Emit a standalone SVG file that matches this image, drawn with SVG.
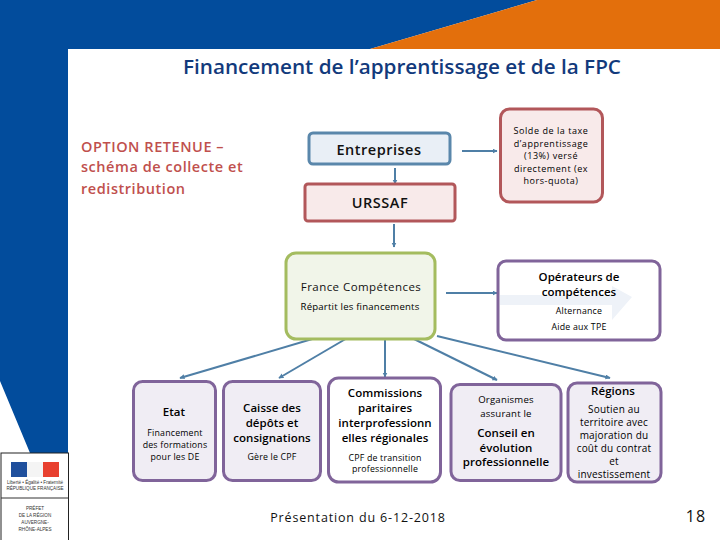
<svg xmlns="http://www.w3.org/2000/svg" width="720" height="540" viewBox="0 0 720 540">
<style>
text{font-family:"Open Sans","Noto Sans","Liberation Sans",sans-serif;fill:#111;text-anchor:middle}
.b{font-weight:600;font-size:11.500px;letter-spacing:.05px;fill:#000}
.s{font-size:8.800px;letter-spacing:.2px;fill:#000}
.t{font-size:10px}
.u{font-size:9.600px}
.v{font-size:9px;letter-spacing:.55px}
.o{text-anchor:start;fill:#c0504d;font-size:14.500px;font-weight:600;letter-spacing:.55px}
.box{stroke-width:3}
.p{stroke:#80649a}
.pf{fill:#f0edf4}
.r{stroke:#b2575a;fill:#f8eaea}
.c{stroke:#4f7fa6;stroke-width:2;fill:none;marker-end:url(#a)}
.m{fill:#333;font-size:4.600px;font-family:"Liberation Sans",sans-serif}
</style>
<defs>
<marker id="a" markerWidth="6" markerHeight="6" refX="4.500" refY="2.500" orient="auto" markerUnits="userSpaceOnUse"><path d="M0 0L5 2.500L0 5Z" fill="#4f7fa6"/></marker>
</defs>
<rect width="720" height="540" fill="#fff"/>
<path d="M0 0H537L370 49H68V453H30L0 381Z" fill="#024c9c"/>
<path d="M537 0H720V49H370Z" fill="#e36f0c"/>
<g id="logo">
<rect x="1" y="453" width="67.500" height="88" fill="#fff" stroke="#222" stroke-width="1"/>
<path d="M1 498H68" stroke="#333" stroke-width="1"/>
<rect x="11" y="462" width="16" height="15" fill="#1f4f9c"/>
<rect x="27" y="462" width="16" height="15" fill="#f4f4f4"/>
<rect x="43" y="462" width="16" height="15" fill="#e8402f"/>
<text class="m" x="35" y="484">Liberté • Égalité • Fraternité</text>
<text class="m" x="35" y="490">RÉPUBLIQUE FRANÇAISE</text>
<text class="m" x="35" y="510">PRÉFET</text>
<text class="m" x="35" y="517">DE LA RÉGION</text>
<text class="m" x="35" y="524">AUVERGNE-</text>
<text class="m" x="35" y="531">RHÔNE-ALPES</text>
</g>
<text x="402" y="74" style="font-size:20px;font-weight:600;fill:#123a7c" textLength="438" lengthAdjust="spacingAndGlyphs">Financement de l’apprentissage et de la FPC</text>
<g id="option">
<text class="o" x="81" y="152">OPTION RETENUE –</text>
<text class="o" x="81" y="172">schéma de collecte et</text>
<text class="o" x="81" y="194">redistribution</text>
</g>
<g id="connectors">
<path class="c" d="M395 168V184"/>
<path class="c" d="M394 224V247"/>
<path class="c" d="M462 151H497"/>
<path class="c" d="M446 293H497"/>
<path class="c" d="M319 337L180 378"/>
<path class="c" d="M349 337L279 378"/>
<path class="c" d="M385 338V377"/>
<path class="c" d="M412 338L497 380"/>
<path class="c" d="M437 336L610 378"/>
</g>
<g id="entreprises">
<rect class="box" x="309" y="133" width="141" height="31" rx="4" fill="#e9eff6" stroke="#5a87ab"/>
<text x="379" y="155" style="font-size:14.500px;font-weight:600;letter-spacing:.5px">Entreprises</text>
</g>
<g id="urssaf">
<rect class="box r" x="305" y="184" width="150" height="37" rx="3"/>
<text x="380" y="208" style="font-size:14.500px;font-weight:600;letter-spacing:.5px">URSSAF</text>
</g>
<g id="solde">
<rect class="box r" x="500.500" y="109" width="102" height="93" rx="9"/>
<text class="s v" x="551" y="134">Solde de la taxe</text>
<text class="s v" x="551" y="147">d’apprentissage</text>
<text class="s v" x="551" y="159">(13%) versé</text>
<text class="s v" x="551" y="172">directement (ex</text>
<text class="s v" x="551" y="184">hors-quota)</text>
</g>
<g id="france">
<rect class="box" x="286" y="253" width="149" height="86" rx="10" fill="#f1f5e9" stroke="#a4bc5f"/>
<text x="361" y="291" style="font-size:11.500px;font-weight:500;letter-spacing:.45px">France Compétences</text>
<text class="s u" x="360" y="310">Répartit les financements</text>
</g>
<g id="operateurs">
<rect class="box" x="498" y="261" width="162" height="79" rx="8" fill="#fff" stroke="#80649a"/>
<path d="M500 295H612V286L632 297L612 320V305H500Z" fill="#eef2f8"/>
<text class="b" x="579" y="281">Opérateurs de</text>
<text class="b" x="579" y="296">compétences</text>
<text class="s" x="579" y="314">Alternance</text>
<text class="s" x="579" y="330">Aide aux TPE</text>
</g>
<g id="etat">
<rect class="box p pf" x="133.500" y="381.500" width="82" height="99" rx="9"/>
<text class="b" x="174" y="416">Etat</text>
<text class="s" x="175" y="436">Financement</text>
<text class="s" x="175" y="448">des formations</text>
<text class="s" x="175" y="460">pour les DE</text>
</g>
<g id="caisse">
<rect class="box p pf" x="223.500" y="381.500" width="97" height="99" rx="9"/>
<text class="b" x="272" y="412">Caisse des</text>
<text class="b" x="272" y="427">dépôts et</text>
<text class="b" x="272" y="442">consignations</text>
<text class="s" x="272" y="460">Gère le CPF</text>
</g>
<g id="commissions">
<rect class="box p" x="328.500" y="378" width="112" height="104" rx="10" fill="#fff"/>
<text class="b" x="385" y="397">Commissions</text>
<text class="b" x="385" y="412">paritaires</text>
<text class="b" x="385" y="427">interprofessionn</text>
<text class="b" x="385" y="442">elles régionales</text>
<text class="s" x="385" y="461">CPF de transition</text>
<text class="s" x="385" y="472">professionnelle</text>
</g>
<g id="organismes">
<rect class="box p pf" x="451" y="384.500" width="110" height="96" rx="9"/>
<text class="s u" x="506" y="403">Organismes</text>
<text class="s u" x="506" y="417">assurant le</text>
<text class="b" x="506" y="437">Conseil en</text>
<text class="b" x="506" y="452">évolution</text>
<text class="b" x="506" y="466">professionnelle</text>
</g>
<g id="regions">
<rect class="box p pf" x="568" y="383" width="93" height="99" rx="9"/>
<text class="b" x="613" y="395">Régions</text>
<text class="s t" x="614" y="413">Soutien au</text>
<text class="s t" x="614" y="426">territoire avec</text>
<text class="s t" x="614" y="439">majoration du</text>
<text class="s t" x="614" y="452">coût du contrat</text>
<text class="s t" x="614" y="465">et</text>
<text class="s t" x="614" y="478">investissement</text>
</g>
<text x="358" y="522" style="font-size:12.500px;letter-spacing:.85px">Présentation du 6-12-2018</text>
<text x="696" y="522" style="font-size:16px;letter-spacing:1px">18</text>
</svg>
